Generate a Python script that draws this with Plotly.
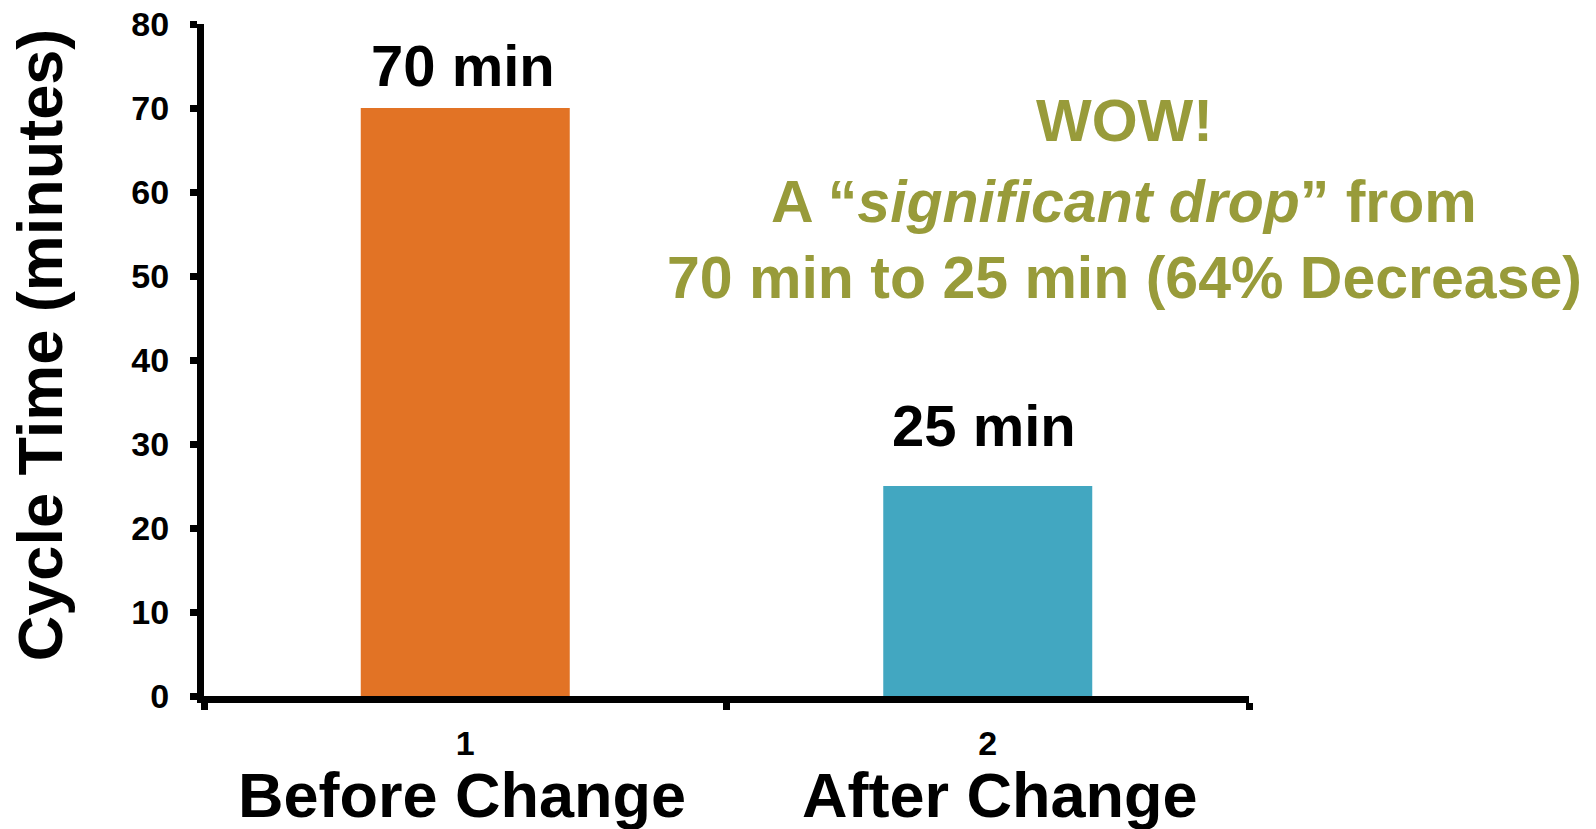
import plotly.graph_objects as go

# Cycle time before and after the process change
categories = ["1", "2"]
cycle_minutes = [70, 25]
group_names = ["Before Change", "After Change"]
bar_colors = ["#E27325", "#42A7C1"]

FONT = "Liberation Sans, Arial, Helvetica, sans-serif"
GREEN = "#989B3A"

W, H = 1596, 829
L, R, T, B = 204, 347, 24, 133
PW, PH = W - L - R, H - T - B


def px_x(x):
    return (x - L) / PW


def px_y(y):
    return 1 - (y - T) / PH


fig = go.Figure(
    go.Bar(
        x=categories,
        y=cycle_minutes,
        marker=dict(color=bar_colors, line=dict(width=0)),
        width=0.4,
        hoverinfo="skip",
    )
)

annotations = []

# value labels above each bar (x given as category index)
label_shift = [8, 26]
label_xshift = [-2, -4]
for idx, (val, ys, xs) in enumerate(zip(cycle_minutes, label_shift, label_xshift)):
    annotations.append(dict(
        x=idx, y=val, xref="x", yref="y", text=f"<b>{val} min</b>",
        showarrow=False, yanchor="bottom", yshift=ys, xshift=xs,
        font=dict(family=FONT, size=58, color="black"),
    ))

# group names under the tick numbers
name_centers = [462, 1000]
for name, cx in zip(group_names, name_centers):
    annotations.append(dict(
        x=px_x(cx), y=px_y(817 - 0.3465 * 63), xref="paper", yref="paper",
        text=f"<b>{name}</b>", showarrow=False, xanchor="center", yanchor="middle",
        font=dict(family=FONT, size=63, color="black"),
    ))

# y axis title
annotations.append(dict(
    x=px_x(62 - 0.3465 * 63), y=px_y(345), xref="paper", yref="paper",
    text="<b>Cycle Time (minutes)</b>", textangle=-90, showarrow=False,
    xanchor="center", yanchor="middle",
    font=dict(family=FONT, size=63, color="black"),
))

# callout text
callout_lines = [
    "<b>WOW!</b>",
    "<b>A “<i>significant drop</i>” from</b>",
    f"<b>{cycle_minutes[0]} min to {cycle_minutes[1]} min (64% Decrease)</b>",
]
callout_baselines = [141, 222, 298]
for line, base in zip(callout_lines, callout_baselines):
    annotations.append(dict(
        x=px_x(1124), y=px_y(base - 0.3465 * 59), xref="paper", yref="paper",
        text=line, showarrow=False, xanchor="center", yanchor="middle",
        font=dict(family=FONT, size=59, color=GREEN),
    ))

fig.update_layout(
    width=W, height=H,
    margin=dict(l=L, r=R, t=T, b=B, pad=0, autoexpand=False),
    paper_bgcolor="white", plot_bgcolor="white",
    showlegend=False,
    bargap=0.6,
    annotations=annotations,
    xaxis=dict(
        type="category", range=[-0.5, 1.5], autorange=False,
        showgrid=False, zeroline=False, automargin=False,
        showline=True, linecolor="black", linewidth=7,
        ticks="outside", tickson="boundaries", ticklen=7, tickwidth=7,
        tickcolor="black",
        tickfont=dict(family=FONT, size=34, color="black", weight="bold"),
        ticklabelstandoff=11,
    ),
    yaxis=dict(
        range=[0, 80], autorange=False, tickvals=[0, 10, 20, 30, 40, 50, 60, 70, 80],
        showgrid=False, zeroline=False, automargin=False,
        showline=True, linecolor="black", linewidth=7,
        ticks="outside", ticklen=7, tickwidth=7, tickcolor="black",
        tickfont=dict(family=FONT, size=34, color="black", weight="bold"),
        ticklabelstandoff=14,
    ),
)

fig.write_html("out.html")
